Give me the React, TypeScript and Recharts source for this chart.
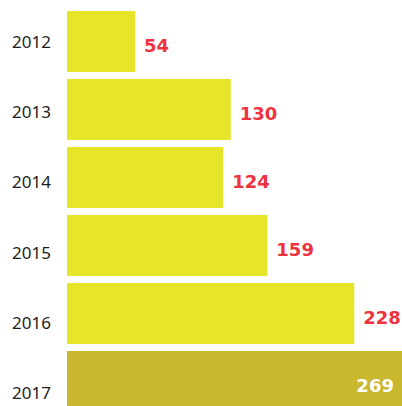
import React from "react";
import { BarChart, Bar, XAxis, YAxis, Cell, LabelList } from "recharts";

// 연도별 값
const years = ["2012", "2013", "2014", "2015", "2016", "2017"];
const values = [54, 130, 124, 159, 228, 269];
const highlightYear = "2017";

const chartData = years.map((year, i) => ({ year, value: values[i] }));

const BAR_COLOR = "#e6e52a";
const HIGHLIGHT_COLOR = "#c9b82e";
const LABEL_RED = "#ee3340";

function ValueLabel(props: any) {
  const { x, y, width, height, value, index } = props;
  const isLast = years[index] === highlightYear;
  const cy = y + height / 2 + 4;
  return (
    <text
      x={isLast ? x + width - 12 : x + width + 9}
      y={cy}
      textAnchor={isLast ? "end" : "start"}
      dominantBaseline="central"
      fill={isLast ? "#ffffff" : LABEL_RED}
      fontFamily="DejaVu Sans"
      fontWeight="bold"
      fontSize={18}
    >
      {value}
    </text>
  );
}

export default function App() {
  return (
    <div
      style={{
        position: "absolute",
        left: 0,
        top: 0,
        width: 402,
        height: 406,
        overflow: "hidden",
        background: "#ffffff",
      }}
    >
      <BarChart
        width={450}
        height={430}
        data={chartData}
        layout="vertical"
        margin={{ top: 7, right: 5, left: 0, bottom: 2 }}
      >
        <XAxis type="number" domain={[0, 300]} hide />

        {/* 연도 레이블 축 */}
        <YAxis
          yAxisId="labels"
          type="category"
          dataKey="year"
          width={67}
          axisLine={false}
          tickLine={false}
          tickMargin={10}
          tick={{ fill: "#1e1e1e", fontSize: 17, fontFamily: "Noto Sans" }}
        />

        {/* 막대용 축 (숨김) */}
        <YAxis
          yAxisId="bars"
          type="category"
          dataKey="year"
          hide
          width={0}
          padding={{ top: 0, bottom: 13 }}
        />

        <Bar yAxisId="bars" dataKey="value" barSize={61} isAnimationActive={false}>
          {chartData.map((d) => (
            <Cell key={d.year} fill={d.year === highlightYear ? HIGHLIGHT_COLOR : BAR_COLOR} />
          ))}
          <LabelList dataKey="value" content={ValueLabel} />
        </Bar>
      </BarChart>
    </div>
  );
}
